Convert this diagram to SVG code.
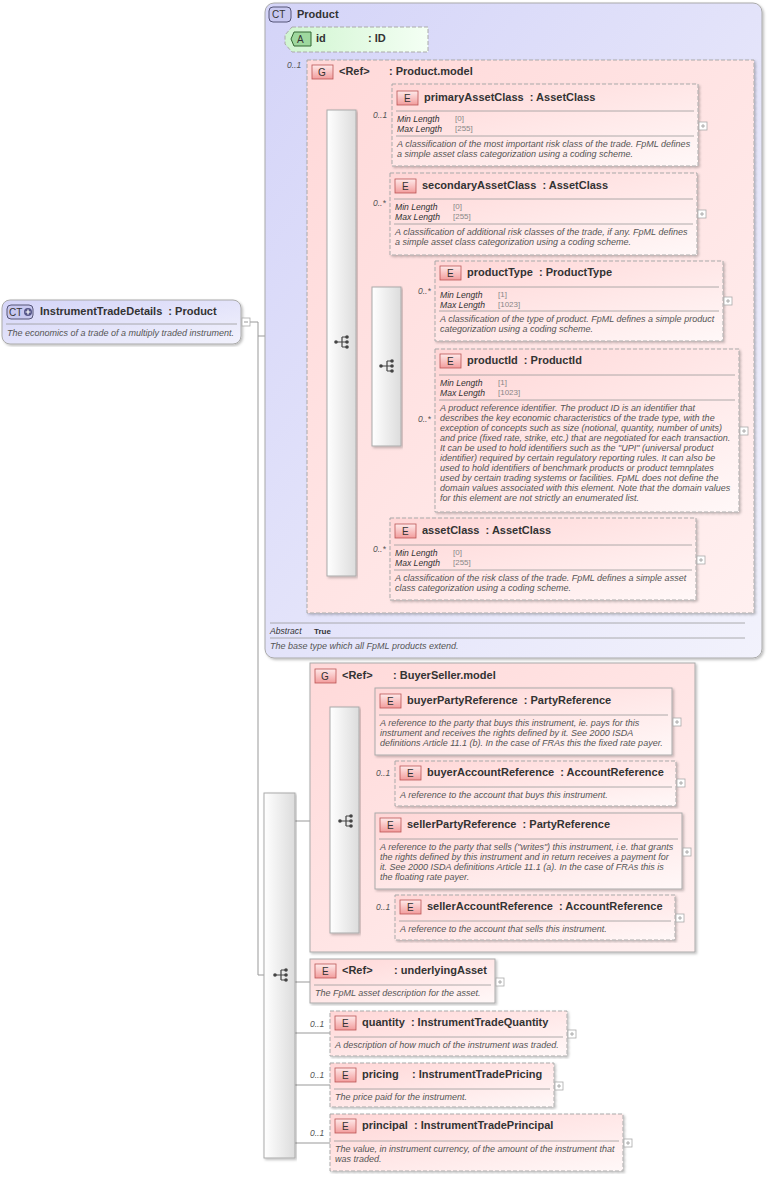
<svg xmlns="http://www.w3.org/2000/svg" width="767" height="1177" viewBox="0 0 767 1177">
<defs>
<linearGradient id="pk" x1="0" y1="0" x2="1" y2="1"><stop offset="0" stop-color="#ffd6d6"/><stop offset="1" stop-color="#fff8f8"/></linearGradient>
<linearGradient id="pkg" x1="0" y1="0" x2="1" y2="1"><stop offset="0" stop-color="#ffd9d9"/><stop offset="1" stop-color="#fff0f0"/></linearGradient>
<linearGradient id="lv" x1="0" y1="0" x2="1" y2="1"><stop offset="0" stop-color="#d4d4f8"/><stop offset="1" stop-color="#f2f2fc"/></linearGradient>
<linearGradient id="gr" x1="0" y1="0" x2="1" y2="0"><stop offset="0" stop-color="#ffffff"/><stop offset="1" stop-color="#dcdcdc"/></linearGradient>
<linearGradient id="gn" x1="0" y1="0" x2="1" y2="0"><stop offset="0" stop-color="#d0f5d0"/><stop offset="1" stop-color="#f4fff4"/></linearGradient>
<linearGradient id="eb" x1="0" y1="0" x2="0" y2="1"><stop offset="0" stop-color="#ffeaea"/><stop offset="1" stop-color="#f29c9c"/></linearGradient>
<g id="seq"><circle cx="-6" cy="0" r="1.8" fill="#444"/><path d="M-6 0H0M0 -5V5M0 -5H5M0 0H5M0 5H5" stroke="#444" fill="none" stroke-width="1.2"/><circle cx="5" cy="-5" r="1.8" fill="#444"/><circle cx="5" cy="0" r="1.8" fill="#444"/><circle cx="5" cy="5" r="1.8" fill="#444"/></g>
<g id="plus"><rect x="0" y="0" width="8" height="8" fill="#fff" stroke="#aaa" stroke-width="0.8"/><path d="M2 4H6M4 2V6" stroke="#999" stroke-width="0.8"/></g>
<filter id="sh" x="-5%" y="-5%" width="110%" height="110%"><feDropShadow dx="1.5" dy="1.5" stdDeviation="0.8" flood-color="#000" flood-opacity="0.25"/></filter>
</defs>
<style>
text{font-family:"Liberation Sans",Arial,sans-serif;fill:#333;white-space:pre}
.t{font-size:11px;font-weight:bold}
.d{font-size:9px;font-style:italic;fill:#555}
.f{font-size:8.6px;font-style:italic;fill:#333}
.v{font-size:8px;fill:#888}
.m{font-size:8.5px;font-style:italic;fill:#555}
.b{font-size:10px;fill:#333}
.el{fill:url(#pk);stroke:#aaa;stroke-width:1;filter:url(#sh)}
.ed{fill:url(#pk);stroke:#aaa;stroke-width:1;stroke-dasharray:4,2;filter:url(#sh)}
.eb{fill:url(#eb);stroke:#b55;stroke-width:0.8}
.sep{stroke:#999;stroke-width:0.8}
.bar{fill:url(#gr);stroke:#aaa;filter:url(#sh)}
.c{stroke:#999;stroke-width:1;fill:none}
</style>

<g id="connectors">
<path class="c" d="M248 322H258V975H264M258 336H307M275 336V40H285"/>
<path class="c" d="M356 126H392M356 214H390M356 366H372M401 302H435M401 430H435M356 560H390"/>
<path class="c" d="M295 821H330M359 722H375M359 783H395M359 852H375M359 918H395"/>
<path class="c" d="M295 982H310M295 1033H330M295 1085H330M295 1143H330"/>
</g>

<g id="InstrumentTradeDetails">
<rect x="2" y="300" width="239" height="44" rx="8" fill="url(#lv)" stroke="#aaa" filter="url(#sh)"/>
<rect x="7" y="305" width="26" height="14" rx="4" fill="#c8c8f0" stroke="#557"/>
<text x="9" y="316" class="b">CT</text><circle cx="28" cy="312" r="4" fill="#558"/><path d="M25.5 312H30.5M28 309.5V314.5" stroke="#fff" stroke-width="1.2"/>
<text x="40" y="315" class="t">InstrumentTradeDetails  : Product</text>
<line x1="6" y1="324" x2="237" y2="324" class="sep"/>
<text x="7" y="336" class="d">The economics of a trade of a multiply traded instrument.</text>
<rect x="242" y="318" width="8" height="8" fill="#fff" stroke="#aaa" stroke-width="0.8"/><path d="M244 322H248" stroke="#999"/>
</g>

<g id="Product">
<rect x="265" y="3" width="497" height="655" rx="9" fill="url(#lv)" stroke="#aaa" filter="url(#sh)"/>
<rect x="269" y="7" width="22" height="15" rx="4" fill="#c8c8f0" stroke="#557"/>
<text x="272" y="18" class="b">CT</text>
<text x="297" y="18" class="t">Product</text>
<line x1="270" y1="623" x2="745" y2="623" class="sep"/>
<text x="270" y="634" class="f">Abstract</text><text x="314" y="634" style="font-size:8px;font-weight:bold">True</text>
<line x1="270" y1="638" x2="745" y2="638" class="sep"/>
<text x="270" y="649" class="d">The base type which all FpML products extend.</text>
</g>

<g id="id">
<path d="M292 27H428V52H292L285 44V35Z" fill="url(#gn)" stroke="#aaa" stroke-dasharray="4,2"/>
<path d="M294 32H311V46H294L291 39Z" fill="#9ed89e" stroke="#363"/>
<text x="297" y="43" class="b">A</text>
<text x="316" y="42" class="t">id</text><text x="368" y="42" class="t">: ID</text>
</g>

<g id="ProductModel">
<text x="287" y="68" class="m">0..1</text>
<rect x="307" y="60" width="447" height="553" fill="url(#pkg)" stroke="#aaa" stroke-dasharray="4,2" filter="url(#sh)"/>
<rect x="312" y="65" width="21" height="14" class="eb"/><text x="318" y="76" class="b">G</text>
<text x="339" y="75" class="t">&lt;Ref&gt;</text><text x="389" y="75" class="t">: Product.model</text>
<rect x="327" y="110" width="29" height="466" class="bar"/>
<use href="#seq" x="342" y="342"/>
</g>

<g id="primaryAssetClass">
<text x="373" y="118" class="m">0..1</text>
<rect x="392" y="84" width="306" height="82" class="ed"/>
<rect x="397" y="91" width="21" height="14" class="eb"/><text x="404" y="102" class="b">E</text>
<text x="424" y="101" class="t">primaryAssetClass  : AssetClass</text>
<line x1="396" y1="111" x2="694" y2="111" class="sep"/>
<text x="397" y="122" class="f">Min Length</text><text x="455" y="121" class="v">[0]</text>
<text x="397" y="132" class="f">Max Length</text><text x="455" y="131" class="v">[255]</text>
<line x1="396" y1="136" x2="694" y2="136" class="sep"/>
<text x="397" y="147" class="d">A classification of the most important risk class of the trade. FpML defines</text>
<text x="397" y="157" class="d">a simple asset class categorization using a coding scheme.</text>
<use href="#plus" x="699" y="122"/>
</g>

<g id="secondaryAssetClass">
<text x="373" y="206" class="m">0..*</text>
<rect x="390" y="173" width="307" height="82" class="ed"/>
<rect x="395" y="179" width="21" height="14" class="eb"/><text x="402" y="190" class="b">E</text>
<text x="422" y="189" class="t">secondaryAssetClass  : AssetClass</text>
<line x1="394" y1="199" x2="693" y2="199" class="sep"/>
<text x="395" y="210" class="f">Min Length</text><text x="453" y="209" class="v">[0]</text>
<text x="395" y="220" class="f">Max Length</text><text x="453" y="219" class="v">[255]</text>
<line x1="394" y1="224" x2="693" y2="224" class="sep"/>
<text x="395" y="235" class="d">A classification of additional risk classes of the trade, if any. FpML defines</text>
<text x="395" y="245" class="d">a simple asset class categorization using a coding scheme.</text>
<use href="#plus" x="698" y="210"/>
</g>

<g id="choice">
<rect x="372" y="287" width="29" height="159" class="bar"/>
<use href="#seq" x="387" y="366"/>
</g>

<g id="productType">
<text x="418" y="294" class="m">0..*</text>
<rect x="435" y="261" width="288" height="80" class="ed"/>
<rect x="440" y="266" width="21" height="14" class="eb"/><text x="447" y="277" class="b">E</text>
<text x="467" y="276" class="t">productType  : ProductType</text>
<line x1="439" y1="287" x2="719" y2="287" class="sep"/>
<text x="440" y="298" class="f">Min Length</text><text x="498" y="297" class="v">[1]</text>
<text x="440" y="308" class="f">Max Length</text><text x="498" y="307" class="v">[1023]</text>
<line x1="439" y1="311" x2="719" y2="311" class="sep"/>
<text x="440" y="322" class="d">A classification of the type of product. FpML defines a simple product</text>
<text x="440" y="332" class="d">categorization using a coding scheme.</text>
<use href="#plus" x="724" y="297"/>
</g>

<g id="productId">
<text x="418" y="422" class="m">0..*</text>
<rect x="435" y="349" width="304" height="163" class="ed"/>
<rect x="440" y="354" width="21" height="14" class="eb"/><text x="447" y="365" class="b">E</text>
<text x="467" y="364" class="t">productId  : ProductId</text>
<line x1="439" y1="375" x2="735" y2="375" class="sep"/>
<text x="440" y="386" class="f">Min Length</text><text x="498" y="385" class="v">[1]</text>
<text x="440" y="396" class="f">Max Length</text><text x="498" y="395" class="v">[1023]</text>
<line x1="439" y1="400" x2="735" y2="400" class="sep"/>
<text class="d"><tspan x="440" y="411">A product reference identifier. The product ID is an identifier that</tspan><tspan x="440" y="421">describes the key economic characteristics of the trade type, with the</tspan><tspan x="440" y="431">exception of concepts such as size (notional, quantity, number of units)</tspan><tspan x="440" y="441">and price (fixed rate, strike, etc.) that are negotiated for each transaction.</tspan><tspan x="440" y="451">It can be used to hold identifiers such as the "UPI" (universal product</tspan><tspan x="440" y="461">identifier) required by certain regulatory reporting rules. It can also be</tspan><tspan x="440" y="471">used to hold identifiers of benchmark products or product temnplates</tspan><tspan x="440" y="481">used by certain trading systems or facilities. FpML does not define the</tspan><tspan x="440" y="491">domain values associated with this element. Note that the domain values</tspan><tspan x="440" y="501">for this element are not strictly an enumerated list.</tspan></text>
<use href="#plus" x="740" y="427"/>
</g>

<g id="assetClass">
<text x="373" y="552" class="m">0..*</text>
<rect x="390" y="518" width="306" height="82" class="ed"/>
<rect x="395" y="524" width="21" height="14" class="eb"/><text x="402" y="535" class="b">E</text>
<text x="422" y="534" class="t">assetClass  : AssetClass</text>
<line x1="394" y1="545" x2="692" y2="545" class="sep"/>
<text x="395" y="556" class="f">Min Length</text><text x="453" y="555" class="v">[0]</text>
<text x="395" y="566" class="f">Max Length</text><text x="453" y="565" class="v">[255]</text>
<line x1="394" y1="570" x2="692" y2="570" class="sep"/>
<text x="395" y="581" class="d">A classification of the risk class of the trade. FpML defines a simple asset</text>
<text x="395" y="591" class="d">class categorization using a coding scheme.</text>
<use href="#plus" x="697" y="556"/>
</g>

<g id="mainSequence">
<rect x="264" y="793" width="31" height="365" class="bar"/>
<use href="#seq" x="281" y="975"/>
</g>

<g id="BuyerSellerModel">
<rect x="310" y="663" width="385" height="289" fill="url(#pkg)" stroke="#aaa" filter="url(#sh)"/>
<rect x="315" y="669" width="21" height="14" class="eb"/><text x="321" y="680" class="b">G</text>
<text x="342" y="679" class="t">&lt;Ref&gt;</text><text x="393" y="679" class="t">: BuyerSeller.model</text>
<rect x="330" y="707" width="29" height="226" class="bar"/>
<use href="#seq" x="346" y="821"/>
</g>

<g id="buyerPartyReference">
<rect x="375" y="688" width="297" height="67" class="el"/>
<rect x="380" y="694" width="21" height="14" class="eb"/><text x="387" y="705" class="b">E</text>
<text x="407" y="704" class="t">buyerPartyReference  : PartyReference</text>
<line x1="379" y1="715" x2="668" y2="715" class="sep"/>
<text x="380" y="726" class="d">A reference to the party that buys this instrument, ie. pays for this</text>
<text x="380" y="736" class="d">instrument and receives the rights defined by it. See 2000 ISDA</text>
<text x="380" y="746" class="d">definitions Article 11.1 (b). In the case of FRAs this the fixed rate payer.</text>
<use href="#plus" x="673" y="718"/>
</g>

<g id="buyerAccountReference">
<text x="376" y="776" class="m">0..1</text>
<rect x="395" y="761" width="281" height="45" class="ed"/>
<rect x="400" y="766" width="21" height="14" class="eb"/><text x="407" y="777" class="b">E</text>
<text x="427" y="776" class="t">buyerAccountReference  : AccountReference</text>
<line x1="399" y1="787" x2="672" y2="787" class="sep"/>
<text x="400" y="798" class="d">A reference to the account that buys this instrument.</text>
<use href="#plus" x="677" y="779"/>
</g>

<g id="sellerPartyReference">
<rect x="375" y="813" width="307" height="76" class="el"/>
<rect x="380" y="818" width="21" height="14" class="eb"/><text x="387" y="829" class="b">E</text>
<text x="407" y="828" class="t">sellerPartyReference  : PartyReference</text>
<line x1="379" y1="839" x2="678" y2="839" class="sep"/>
<text x="380" y="850" class="d">A reference to the party that sells ("writes") this instrument, i.e. that grants</text>
<text x="380" y="860" class="d">the rights defined by this instrument and in return receives a payment for</text>
<text x="380" y="870" class="d">it. See 2000 ISDA definitions Article 11.1 (a). In the case of FRAs this is</text>
<text x="380" y="880" class="d">the floating rate payer.</text>
<use href="#plus" x="683" y="848"/>
</g>

<g id="sellerAccountReference">
<text x="376" y="910" class="m">0..1</text>
<rect x="395" y="895" width="280" height="45" class="ed"/>
<rect x="400" y="900" width="21" height="14" class="eb"/><text x="407" y="911" class="b">E</text>
<text x="427" y="910" class="t">sellerAccountReference  : AccountReference</text>
<line x1="399" y1="921" x2="671" y2="921" class="sep"/>
<text x="400" y="932" class="d">A reference to the account that sells this instrument.</text>
<use href="#plus" x="676" y="914"/>
</g>

<g id="underlyingAsset">
<rect x="310" y="959" width="185" height="44" class="el"/>
<rect x="315" y="964" width="21" height="14" class="eb"/><text x="322" y="975" class="b">E</text>
<text x="342" y="974" class="t">&lt;Ref&gt;</text><text x="394" y="974" class="t">: underlyingAsset</text>
<line x1="314" y1="985" x2="491" y2="985" class="sep"/>
<text x="315" y="996" class="d">The FpML asset description for the asset.</text>
<use href="#plus" x="496" y="978"/>
</g>

<g id="quantity">
<text x="310" y="1027" class="m">0..1</text>
<rect x="330" y="1011" width="237" height="45" class="ed"/>
<rect x="335" y="1016" width="21" height="14" class="eb"/><text x="342" y="1027" class="b">E</text>
<text x="362" y="1026" class="t">quantity  : InstrumentTradeQuantity</text>
<line x1="334" y1="1037" x2="563" y2="1037" class="sep"/>
<text x="335" y="1048" class="d">A description of how much of the instrument was traded.</text>
<use href="#plus" x="568" y="1030"/>
</g>

<g id="pricing">
<text x="310" y="1078" class="m">0..1</text>
<rect x="330" y="1063" width="224" height="44" class="ed"/>
<rect x="335" y="1068" width="21" height="14" class="eb"/><text x="342" y="1079" class="b">E</text>
<text x="362" y="1078" class="t">pricing</text><text x="412" y="1078" class="t">: InstrumentTradePricing</text>
<line x1="334" y1="1089" x2="550" y2="1089" class="sep"/>
<text x="335" y="1100" class="d">The price paid for the instrument.</text>
<use href="#plus" x="555" y="1082"/>
</g>

<g id="principal">
<text x="310" y="1136" class="m">0..1</text>
<rect x="330" y="1114" width="293" height="57" class="ed"/>
<rect x="335" y="1119" width="21" height="14" class="eb"/><text x="342" y="1130" class="b">E</text>
<text x="362" y="1129" class="t">principal  : InstrumentTradePrincipal</text>
<line x1="334" y1="1141" x2="619" y2="1141" class="sep"/>
<text x="335" y="1152" class="d">The value, in instrument currency, of the amount of the instrument that</text>
<text x="335" y="1162" class="d">was traded.</text>
<use href="#plus" x="624" y="1139"/>
</g>
</svg>
